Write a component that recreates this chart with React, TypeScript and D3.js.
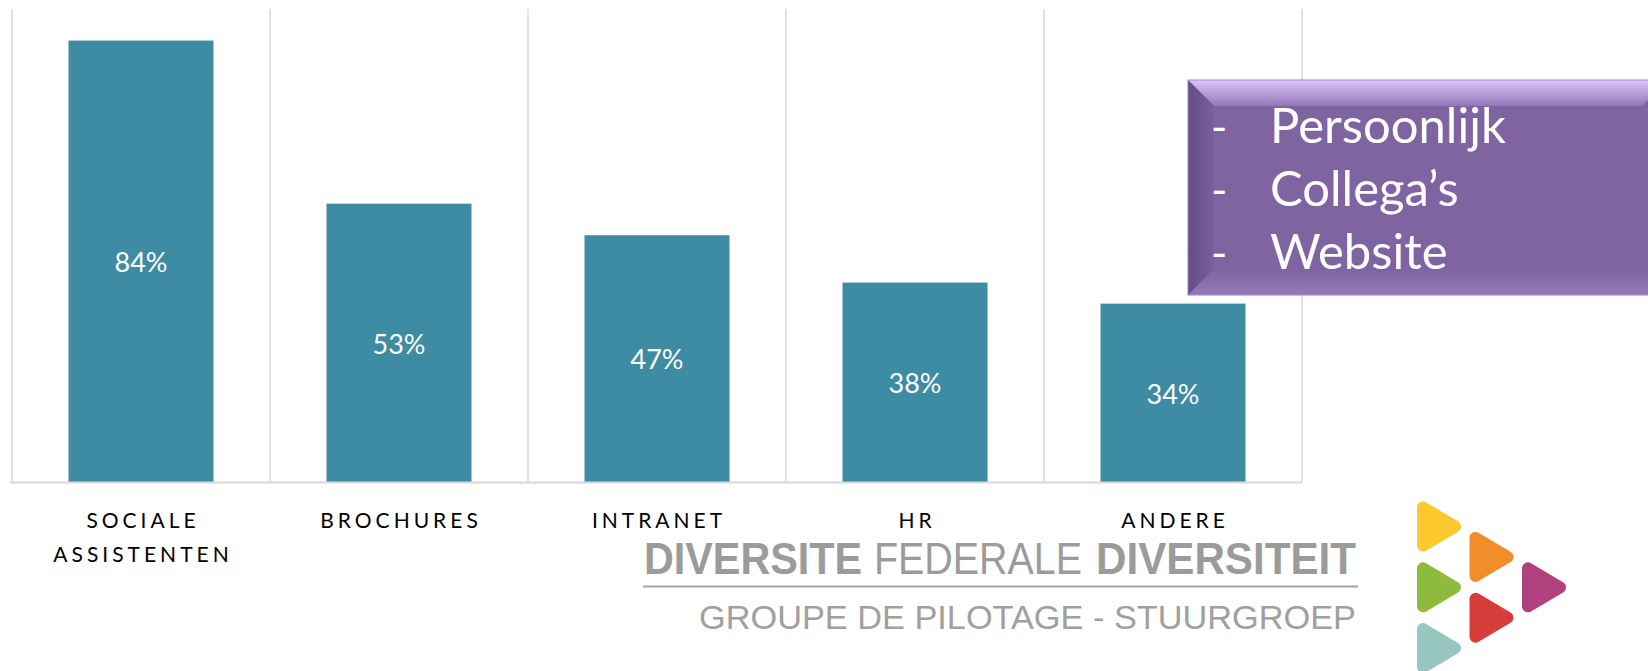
import React from "react";
import * as d3 from "d3";

const categories: string[][] = [
  ["SOCIALE", "ASSISTENTEN"],
  ["BROCHURES"],
  ["INTRANET"],
  ["HR"],
  ["ANDERE"],
];
const values: number[] = [0.84, 0.53, 0.47, 0.38, 0.34];
const boxLines: string[] = ["Persoonlijk", "Collega\u2019s", "Website"];
const logoTitle: { text: string; bold: boolean }[] = [
  { text: "DIVERSITE", bold: true },
  { text: "FEDERALE", bold: false },
  { text: "DIVERSITEIT", bold: true },
];
const logoSub = "GROUPE DE PILOTAGE - STUURGROEP";
const logoColors: { color: string; col: number; row: number }[] = [
  { color: "#FDC92F", col: 0, row: 0 },
  { color: "#F28D2B", col: 1, row: 1 },
  { color: "#8DBB3B", col: 0, row: 2 },
  { color: "#B0417C", col: 2, row: 2 },
  { color: "#D63C39", col: 1, row: 3 },
  { color: "#98C6C1", col: 0, row: 4 },
];

const W = 1648;
const H = 671;

export default function App() {
  const x0 = 12;
  const x1 = 1302;
  const yTop = 9;
  const yBase = 482.5;
  const keys = categories.map((c) => c.join(" "));
  const x = d3.scaleBand<string>().domain(keys).range([x0, x1]).paddingInner(0.438).paddingOuter(0.219);
  const y = d3.scaleLinear().domain([0, 0.9]).range([yBase, yTop]);
  const step = x.step();
  const grid = d3.range(keys.length + 1).map((i) => x0 + i * step);

  // purple box
  const bx = 1188, by = 80, bw = 480, bh = 215, bev = 26;

  const titleSegs = [
    { x: 644, w: 218 },
    { x: 874, w: 208 },
    { x: 1096, w: 260 },
  ];

  return (
    <svg width={W} height={H} style={{ position: "absolute", left: 0, top: 0, background: "#fff" }}>
      <defs>
        <linearGradient id="topBev" x1="0" y1="0" x2="0" y2="1">
          <stop offset="0" stopColor="#dcc4fd" />
          <stop offset="1" stopColor="#9278b8" />
        </linearGradient>
        <linearGradient id="leftBev" x1="0" y1="0" x2="1" y2="0">
          <stop offset="0" stopColor="#654b89" />
          <stop offset="1" stopColor="#7b5f9e" />
        </linearGradient>
        <linearGradient id="botBev" x1="0" y1="1" x2="0" y2="0">
          <stop offset="0" stopColor="#9479ba" />
          <stop offset="1" stopColor="#8064A2" />
        </linearGradient>
      </defs>
      <rect x={0} y={0} width={W} height={H} fill="#ffffff" />

      {/* gridlines */}
      {grid.map((gx, i) => (
        <line key={i} x1={gx} x2={gx} y1={yTop} y2={yBase} stroke="#d9d9d9" strokeWidth={1.5} />
      ))}

      {/* bars */}
      {keys.map((k, i) => (
        <rect key={k} x={x(k)} y={y(values[i])} width={x.bandwidth()} height={yBase - y(values[i])} fill="#3D8CA4" />
      ))}

      {/* axis */}
      <line x1={x0 - 2} x2={x1} y1={yBase} y2={yBase} stroke="#d9d9d9" strokeWidth={2} />

      {/* value labels */}
      {keys.map((k, i) => (
        <text
          key={k}
          x={(x(k) as number) + x.bandwidth() / 2}
          y={(y(values[i]) + yBase) / 2}
          textAnchor="middle"
          dominantBaseline="central"
          fill="#ffffff"
          fontFamily="Lato, 'Open Sans', sans-serif"
          fontSize={27}
        >
          {Math.round(values[i] * 100)}%
        </text>
      ))}

      {/* category labels */}
      {categories.map((lines, i) =>
        lines.map((ln, j) => (
          <text
            key={i + "-" + j}
            x={(x(keys[i]) as number) + x.bandwidth() / 2 + 2}
            y={528 + j * 34}
            textAnchor="middle"
            fill="#000"
            fontFamily="Lato, 'Open Sans', sans-serif"
            fontSize={21}
            letterSpacing={4}
          >
            {ln}
          </text>
        ))
      )}

      {/* purple bevel box */}
      <rect x={bx} y={by} width={bw} height={bh} fill="#8064A2" />
      <polygon points={`${bx},${by} ${bx + bw},${by} ${bx + bw - bev},${by + bev} ${bx + bev},${by + bev}`} fill="url(#topBev)" />
      <polygon points={`${bx},${by} ${bx + bev},${by + bev} ${bx + bev},${by + bh - bev} ${bx},${by + bh}`} fill="url(#leftBev)" />
      <polygon points={`${bx},${by + bh} ${bx + bev},${by + bh - bev} ${bx + bw - bev},${by + bh - bev} ${bx + bw},${by + bh}`} fill="url(#botBev)" />
      <rect x={bx} y={by} width={bw} height={bh} fill="none" stroke="#9a86b6" strokeWidth={1} />
      {boxLines.map((t, i) => (
        <g key={t}>
          <text x={1211} y={143 + i * 63} fill="#fff" fontFamily="Lato, 'Open Sans', sans-serif" fontSize={44}>-</text>
          <text x={1270} y={143 + i * 63} fill="#fff" fontFamily="Lato, 'Open Sans', sans-serif" fontSize={49}>{t}</text>
        </g>
      ))}

      {/* logo text */}
      {logoTitle.map((s, i) => (
        <text
          key={i}
          x={titleSegs[i].x}
          y={574}
          fill="#9b9b9b"
          fontFamily="'Liberation Sans', Arial, sans-serif"
          fontWeight={s.bold ? 700 : 400}
          fontSize={44}
          textLength={titleSegs[i].w}
          lengthAdjust="spacingAndGlyphs"
        >
          {s.text}
        </text>
      ))}
      <line x1={643} x2={1358} y1={586.5} y2={586.5} stroke="#a6a6a6" strokeWidth={2} />
      <text
        x={699}
        y={628.5}
        fill="#a0a0a0"
        fontFamily="'Liberation Sans', Arial, sans-serif"
        fontSize={33}
        textLength={657}
        lengthAdjust="spacingAndGlyphs"
      >
        {logoSub}
      </text>

      {/* logo triangles */}
      {logoColors.map((t, i) => {
        const lx = 1417 + t.col * 52.5;
        const cy = 526.5 + t.row * 30.4;
        return (
          <polygon
            key={i}
            points={`${lx + 6},${cy - 19} ${lx + 6},${cy + 19} ${lx + 38},${cy}`}
            fill={t.color}
            stroke={t.color}
            strokeWidth={12}
            strokeLinejoin="round"
          />
        );
      })}
    </svg>
  );
}
